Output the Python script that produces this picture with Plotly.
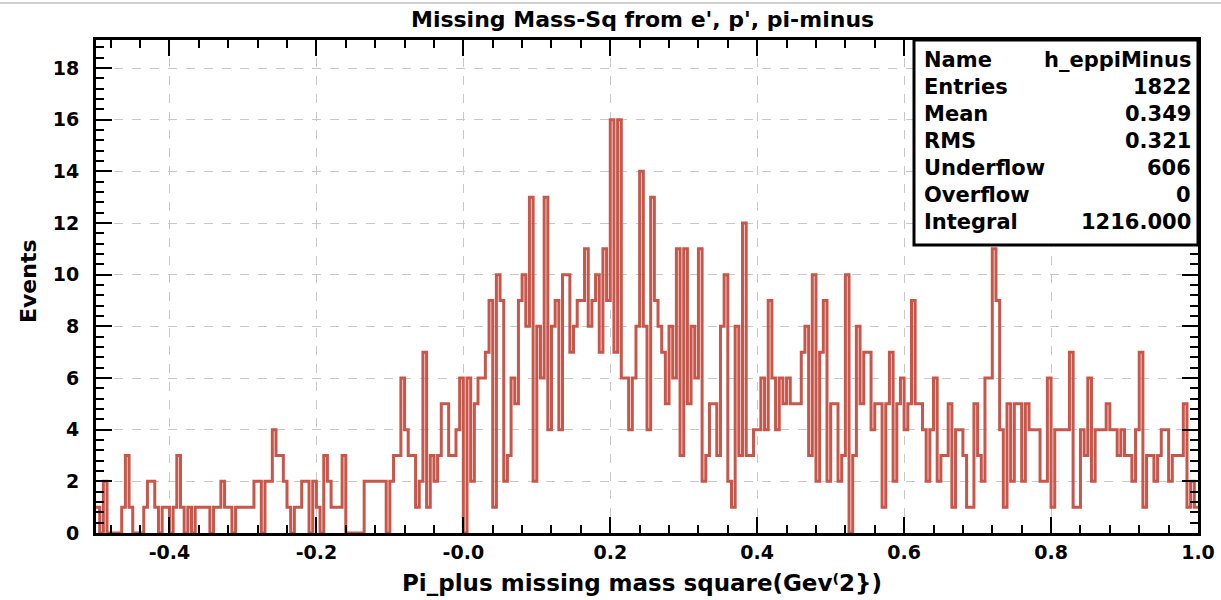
import numpy as np
import plotly.graph_objects as go

# ---- data: 300 bins from -0.5 to 1.0 (width 0.005) ----
x_min, x_max, n_bins = -0.5, 1.0, 300
counts = [
    1, 0, 2, 0, 0, 0, 0, 1, 3, 1,
    0, 0, 0, 1, 2, 2, 1, 0, 1, 1,
    0, 1, 3, 1, 0, 1, 0, 1, 1, 1,
    1, 0, 1, 1, 2, 1, 1, 0, 1, 1,
    1, 1, 1, 2, 2, 0, 2, 2, 4, 3,
    3, 2, 1, 0, 1, 1, 2, 2, 0, 2,
    1, 0, 3, 2, 1, 1, 1, 3, 0, 0,
    0, 0, 0, 2, 2, 2, 2, 2, 2, 0,
    2, 3, 3, 6, 4, 3, 3, 1, 2, 7,
    1, 3, 2, 3, 5, 5, 3, 3, 4, 6,
    0, 6, 2, 5, 6, 6, 7, 9, 1, 10,
    9, 2, 3, 6, 5, 9, 10, 8, 13, 2,
    8, 6, 13, 4, 8, 9, 4, 10, 10, 7,
    8, 9, 9, 11, 8, 9, 10, 7, 11, 9,
    16, 7, 16, 6, 6, 4, 6, 8, 14, 8,
    4, 13, 9, 8, 7, 5, 8, 6, 11, 3,
    11, 5, 8, 6, 11, 2, 3, 5, 5, 3,
    8, 10, 2, 1, 8, 3, 12, 3, 3, 4,
    4, 6, 4, 9, 6, 4, 6, 5, 6, 5,
    5, 5, 7, 8, 3, 10, 2, 7, 9, 2,
    5, 5, 2, 3, 10, 0, 3, 8, 5, 7,
    7, 4, 5, 5, 1, 5, 7, 2, 5, 6,
    4, 5, 9, 5, 5, 4, 2, 4, 6, 2,
    3, 3, 5, 1, 4, 4, 3, 1, 1, 5,
    3, 2, 6, 6, 11, 9, 4, 1, 5, 2,
    5, 5, 2, 5, 4, 4, 4, 2, 2, 6,
    1, 4, 4, 4, 4, 7, 1, 1, 4, 3,
    6, 2, 4, 4, 4, 5, 4, 4, 3, 4,
    3, 3, 2, 4, 7, 1, 3, 3, 2, 3,
    4, 4, 2, 3, 3, 3, 5, 1, 2, 1,
]
x_tick_labels = ["-0.4", "-0.2", "-0.0", "0.2", "0.4", "0.6", "0.8", "1.0"]
x_tick_values = [-0.4, -0.2, 0.0, 0.2, 0.4, 0.6, 0.8, 1.0]
stat_labels = ["Name", "Entries", "Mean", "RMS", "Underflow", "Overflow", "Integral"]
stat_values = ["h_eppiMinus", "1822", "0.349", "0.321", "606", "0", "1216.000"]

title = "Missing Mass-Sq from e', p', pi-minus"
x_title = "Pi_plus missing mass square(Gev\u207d2})"
y_title = "Events"

# ---- figure ----
edges = np.linspace(x_min, x_max, n_bins + 1)
yvals = list(counts) + [counts[-1]]

line_color = "#c9564a"
fig = go.Figure()
fig.add_trace(go.Scatter(
    x=edges, y=yvals, mode="lines", line=dict(color=line_color, width=3, shape="hv"),
    hoverinfo="skip", showlegend=False,
))

W, H = 1221, 600
L, R, T, B = 96, 1198, 40, 533
font_main = "DejaVu Sans"

axis_common = dict(
    showline=True, linecolor="black", linewidth=3, mirror="allticks",
    ticks="inside", ticklen=16, tickwidth=1.5, tickcolor="black",
    showgrid=True, gridcolor="#c8c8c8", griddash="dash", gridwidth=1,
    zeroline=False, automargin=False,
    tickfont=dict(family=font_main, size=19, color="black", weight="bold"),
)

fig.update_layout(
    width=W, height=H,
    margin=dict(l=L, r=W - R, t=T, b=H - B, autoexpand=False),
    paper_bgcolor="white", plot_bgcolor="white",
    xaxis=dict(range=[x_min, x_max], tickmode="array", tickvals=x_tick_values, ticktext=x_tick_labels,
               minor=dict(ticks="inside", ticklen=8, dtick=0.04, tick0=-0.4, tickcolor="black", showgrid=False),
               **axis_common),
    yaxis=dict(range=[0, (B - T) / ((B - 68) / 18)], tick0=0, dtick=2,
               minor=dict(ticks="inside", ticklen=8, dtick=0.4, tick0=0, tickcolor="black", showgrid=False),
               ticklabelstandoff=10,
               **axis_common),
)

pw, ph = R - L, B - T
def px2paper_x(px):
    return (px - L) / pw
def py2paper_y(py):
    return (B - py) / ph

# titles
fig.add_annotation(x=px2paper_x(642), y=py2paper_y(20), xref="paper", yref="paper",
                   text=title, showarrow=False, xanchor="center", yanchor="middle",
                   font=dict(family=font_main, size=22, color="black", weight="bold"))
fig.add_annotation(x=px2paper_x(642), y=py2paper_y(583), xref="paper", yref="paper",
                   text=x_title, showarrow=False, xanchor="center", yanchor="middle",
                   font=dict(family=font_main, size=23, color="black", weight="bold"))
fig.add_annotation(x=px2paper_x(28), y=py2paper_y(281), xref="paper", yref="paper",
                   text=y_title, showarrow=False, xanchor="center", yanchor="middle", textangle=-90,
                   font=dict(family=font_main, size=22, color="black", weight="bold"))

# faint page border line at top
fig.add_shape(type="line", xref="paper", yref="paper",
              x0=px2paper_x(0), x1=px2paper_x(W), y0=py2paper_y(3), y1=py2paper_y(3),
              line=dict(color="#d0d0d0", width=2))

# stats box
fig.add_shape(type="rect", xref="paper", yref="paper",
              x0=px2paper_x(914), x1=1.0, y0=py2paper_y(245), y1=1.0,
              line=dict(color="black", width=3), fillcolor="white", layer="above")
row_y = [60, 87, 114, 141, 168, 195, 222]
for lab, val, ry in zip(stat_labels, stat_values, row_y):
    fig.add_annotation(x=px2paper_x(922), y=py2paper_y(ry), xref="paper", yref="paper",
                       text=lab, showarrow=False, xanchor="left", yanchor="middle",
                       font=dict(family=font_main, size=21, color="black", weight="bold"))
    fig.add_annotation(x=px2paper_x(1193), y=py2paper_y(ry), xref="paper", yref="paper",
                       text=val, showarrow=False, xanchor="right", yanchor="middle",
                       font=dict(family=font_main, size=21, color="black", weight="bold"))

fig.write_html("out.html")
